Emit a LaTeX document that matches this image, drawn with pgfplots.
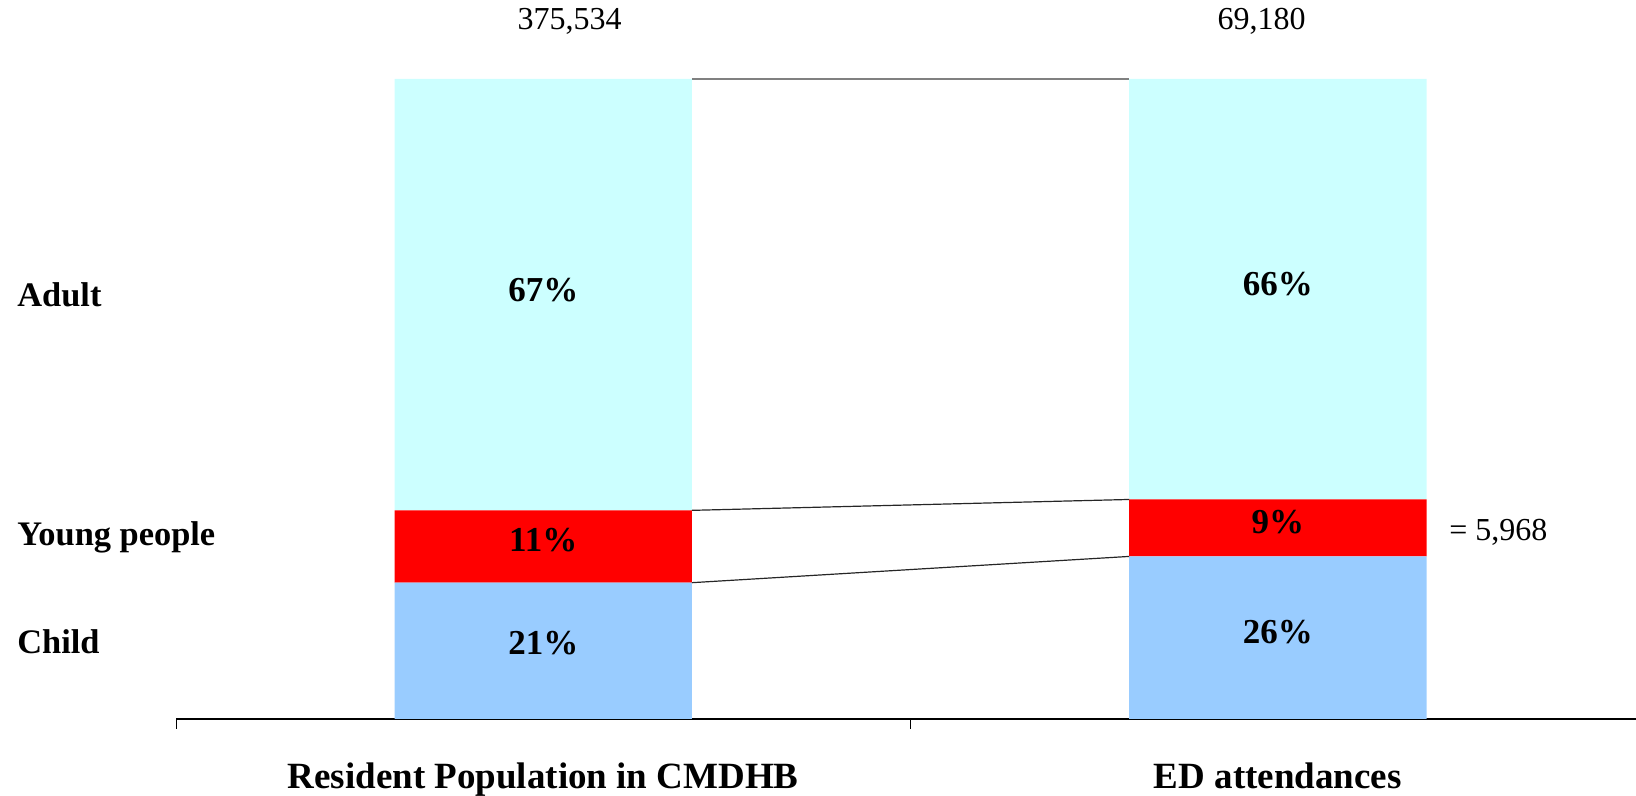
\documentclass[border=0pt]{standalone}
\usepackage{pgfplots}
\pgfplotsset{compat=1.18}
\usepackage{fontspec}
\setmainfont{Liberation Serif}
\definecolor{adultc}{RGB}{204,255,255}
\definecolor{youngc}{RGB}{255,0,0}
\definecolor{childc}{RGB}{153,204,255}
\begin{document}
\begin{tikzpicture}
\begin{axis}[
  name=main,
  width=734.5pt, height=320pt, scale only axis,
  xmin=-0.5, xmax=1.5, ymin=0, ymax=100,
  ybar stacked, bar width=0.405,
  axis x line*=bottom, axis y line=none,
  x axis line style={black, line width=0.8pt, -},
  xtick={-0.5,0.5,1.5}, xticklabels={},
  tick align=outside, major tick length=5pt,
  tick style={black, line width=0.5pt},
  extra x ticks={0,1},
  extra x tick labels={Resident Population in CMDHB, ED attendances},
  extra x tick style={major tick length=0pt, tick label style={font=\fontsize{18.5}{22}\selectfont\bfseries, anchor=base, yshift=-35pt}},
  clip=false,
]
\addplot[fill=childc, draw=none] coordinates {(0,21.3) (1,25.4)};
\addplot[fill=youngc, draw=none] coordinates {(0,11.3) (1,8.9)};
\addplot[fill=adultc, draw=none] coordinates {(0,67.4) (1,65.7)};
\end{axis}
\begin{axis}[
  width=734.5pt, height=320pt, scale only axis,
  xmin=-0.5, xmax=1.5, ymin=0, ymax=100,
  hide axis, clip=false,
]
\addplot[gray, line width=1pt] coordinates {(0.2025,100) (0.7975,100)};
\addplot[black!85, line width=0.6pt] coordinates {(0.2025,32.6) (0.7975,34.3)};
\addplot[black!85, line width=0.6pt] coordinates {(0.2025,21.3) (0.7975,25.4)};
% labels inside bars
\node[font=\fontsize{17.5}{20}\selectfont\bfseries] at (axis cs:0,67.0) {67\%};
\node[font=\fontsize{17.5}{20}\selectfont\bfseries] at (axis cs:0,28.0) {11\%};
\node[font=\fontsize{17.5}{20}\selectfont\bfseries] at (axis cs:0,11.9) {21\%};
\node[font=\fontsize{17.5}{20}\selectfont\bfseries] at (axis cs:1,68.0) {66\%};
\node[font=\fontsize{17.5}{20}\selectfont\bfseries] at (axis cs:1,30.8) {9\%};
\node[font=\fontsize{17.5}{20}\selectfont\bfseries] at (axis cs:1,13.6) {26\%};
% totals
\node[font=\fontsize{16}{19}\selectfont] at (axis cs:0.036,109) {375,534};
\node[font=\fontsize{16}{19}\selectfont] at (axis cs:0.978,109) {69,180};
\node[font=\fontsize{16}{19}\selectfont, anchor=west, inner sep=0pt] at (axis cs:1.233,29.1) {= 5,968};
% row labels
\node[font=\fontsize{17.2}{20}\selectfont\bfseries, anchor=west, inner sep=0pt, xshift=-79.5pt] at (axis cs:-0.5,66.25) {Adult};
\node[font=\fontsize{17.2}{20}\selectfont\bfseries, anchor=west, inner sep=0pt, xshift=-79.5pt] at (axis cs:-0.5,28.4) {Young people};
\node[font=\fontsize{17.2}{20}\selectfont\bfseries, anchor=west, inner sep=0pt, xshift=-79.5pt] at (axis cs:-0.5,12.0) {Child};
\end{axis}
\pgfresetboundingbox
\path (main.south west) ++(-88pt,-38.5pt) rectangle ++(818pt,398pt);
\end{tikzpicture}
\end{document}
